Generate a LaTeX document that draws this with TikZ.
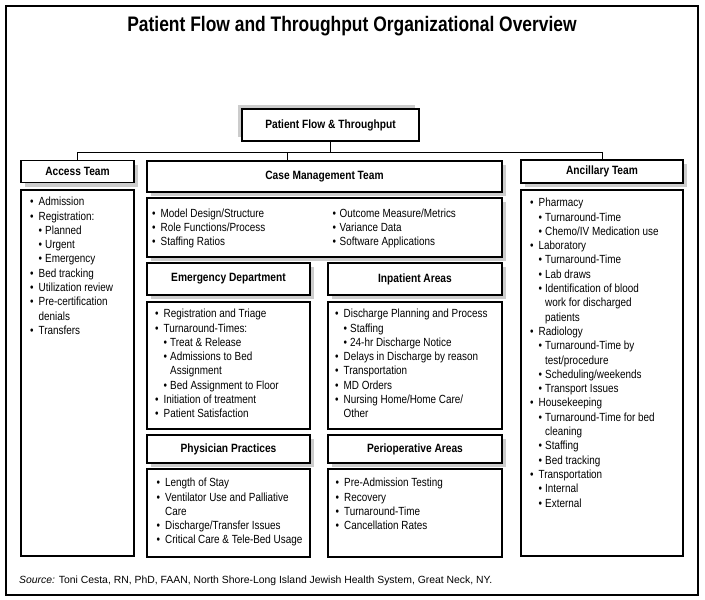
\documentclass[tikz,border=0pt]{standalone}
\usepackage{fontspec}
\usetikzlibrary{shadows}
\newfontfamily\cnd[FakeStretch=0.84]{Liberation Sans}
\newfontfamily\cndh[FakeStretch=0.85]{Liberation Sans}
\newfontfamily\cndt[FakeStretch=0.83]{Liberation Sans}
\newfontfamily\plainsf{Liberation Sans}
\newcommand\Ba[1]{\makebox[8.5pt][l]{\textbullet}#1}
\newcommand\Bb[1]{\hspace*{8.5pt}\makebox[6.5pt][l]{\textbullet}#1}
\newcommand\Bc[1]{\hspace*{8.5pt}#1}
\newcommand\Bd[1]{\hspace*{15pt}#1}
\definecolor{shade}{gray}{0.80}
\tikzset{
  box/.style={draw=black, line width=1.1pt, fill=white, inner sep=0pt},
  hdr/.style={box, font={\cndh\bfseries\fontsize{12}{14}\selectfont},
    drop shadow={shadow xshift=4pt, shadow yshift=-4pt, fill=shade, opacity=1}},
  topbox/.style={box, font={\cndh\bfseries\fontsize{12}{14}\selectfont},
    drop shadow={shadow xshift=-4pt, shadow yshift=4pt, fill=shade, opacity=1}},
  shbox/.style={box, drop shadow={shadow xshift=4pt, shadow yshift=-4pt, fill=shade, opacity=1}},
  bodytext/.style={anchor=north west, inner sep=0pt, align=left,
    font={\cnd\fontsize{11.8}{14.3}\selectfont}},
  link/.style={draw=black, line width=1pt}
}
\begin{document}
\begin{tikzpicture}[x=1pt, y=-1pt]
\useasboundingbox (0,0) rectangle (705,600);
\draw[line width=1.1pt] (6,6) rectangle (698,595);

\node[font={\cndt\bfseries\fontsize{21}{25}\selectfont}] (title) at (352,26)
  {Patient Flow and Throughput Organizational Overview};

% boxes
\node[topbox, minimum width=177pt, minimum height=32pt] (top) at (330.5,125) {Patient Flow \& Throughput};
\node[hdr, minimum width=113pt, minimum height=22pt] (acc) at (77.5,171.5) {Access Team};
\node[box, minimum width=113pt, minimum height=366pt] (accB) at (77.5,373) {};
\node[hdr, minimum width=355pt, minimum height=31pt] (cm) at (324.5,176.5) {Case Management Team};
\node[shbox, minimum width=355pt, minimum height=59pt] (cmB) at (324.5,227.5) {};
\node[hdr, minimum width=163pt, minimum height=32pt] (ed) at (228.5,279) {Emergency Department};
\node[hdr, minimum width=174pt, minimum height=32pt] (ip) at (415,279) {Inpatient Areas};
\node[box, minimum width=163pt, minimum height=127pt] (edB) at (228.5,365.5) {};
\node[box, minimum width=174pt, minimum height=127pt] (ipB) at (415,365.5) {};
\node[hdr, minimum width=163pt, minimum height=28pt] (pp) at (228.5,449) {Physician Practices};
\node[hdr, minimum width=174pt, minimum height=28pt] (po) at (415,449) {Perioperative Areas};
\node[box, minimum width=163pt, minimum height=88pt] (ppB) at (228.5,513) {};
\node[box, minimum width=174pt, minimum height=88pt] (poB) at (415,513) {};
\node[hdr, minimum width=162pt, minimum height=23pt] (anc) at (602,171.5) {Ancillary Team};
\node[box, minimum width=162pt, minimum height=366pt] (ancB) at (602,373) {};

% connectors
\coordinate (bus) at (330.5,152);
\coordinate (cmj) at (287,152);
\draw[link] (top.south) -- (bus);
\draw[link] (acc.north) -- (acc.north |- bus) -| (anc.north);
\draw[link] (cmj) -- (cmj |- cm.north);

% texts
\node[bodytext] (accT) at (30,197) {\Ba{Admission}\\ \Ba{Registration:}\\ \Bb{Planned}\\ \Bb{Urgent}\\ \Bb{Emergency}\\ \Ba{Bed tracking}\\ \Ba{Utilization review}\\ \Ba{Pre-certification}\\ \Bc{denials}\\ \Ba{Transfers}};

\node[bodytext, font={\cnd\fontsize{11.8}{14}\selectfont}] (cmT1) at (152,209) {\Ba{Model Design/Structure}\\ \Ba{Role Functions/Process}\\ \Ba{Staffing Ratios}};
\node[bodytext, font={\cnd\fontsize{11.8}{14}\selectfont}] (cmT2) at (332.5,209) {\makebox[7pt][l]{\textbullet}Outcome Measure/Metrics\\ \makebox[7pt][l]{\textbullet}Variance Data\\ \makebox[7pt][l]{\textbullet}Software Applications};

\node[bodytext] (edT) at (155,309) {\Ba{Registration and Triage}\\ \Ba{Turnaround-Times:}\\ \Bb{Treat \& Release}\\ \Bb{Admissions to Bed}\\ \Bd{Assignment}\\ \Bb{Bed Assignment to Floor}\\ \Ba{Initiation of treatment}\\ \Ba{Patient Satisfaction}};

\node[bodytext] (ipT) at (335,309) {\Ba{Discharge Planning and Process}\\ \Bb{Staffing}\\ \Bb{24-hr Discharge Notice}\\ \Ba{Delays in Discharge by reason}\\ \Ba{Transportation}\\ \Ba{MD Orders}\\ \Ba{Nursing Home/Home Care/}\\ \Bc{Other}};

\node[bodytext] (ppT) at (156.5,478) {\Ba{Length of Stay}\\ \Ba{Ventilator Use and Palliative}\\ \Bc{Care}\\ \Ba{Discharge/Transfer Issues}\\ \Ba{Critical Care \& Tele-Bed Usage}};

\node[bodytext] (poT) at (335.5,478) {\Ba{Pre-Admission Testing}\\ \Ba{Recovery}\\ \Ba{Turnaround-Time}\\ \Ba{Cancellation Rates}};

\node[bodytext] (ancT) at (530,198) {\Ba{Pharmacy}\\ \Bb{Turnaround-Time}\\ \Bb{Chemo/IV Medication use}\\ \Ba{Laboratory}\\ \Bb{Turnaround-Time}\\ \Bb{Lab draws}\\ \Bb{Identification of blood}\\ \Bd{work for discharged}\\ \Bd{patients}\\ \Ba{Radiology}\\ \Bb{Turnaround-Time by}\\ \Bd{test/procedure}\\ \Bb{Scheduling/weekends}\\ \Bb{Transport Issues}\\ \Ba{Housekeeping}\\ \Bb{Turnaround-Time for bed}\\ \Bd{cleaning}\\ \Bb{Staffing}\\ \Bb{Bed tracking}\\ \Ba{Transportation}\\ \Bb{Internal}\\ \Bb{External}};

\node[anchor=west, inner sep=0pt, font={\plainsf\fontsize{10.4}{12}\selectfont}] (src) at (19,581)
  {\textit{Source:} Toni Cesta, RN, PhD, FAAN, North Shore-Long Island Jewish Health System, Great Neck, NY.};
\end{tikzpicture}
\end{document}
